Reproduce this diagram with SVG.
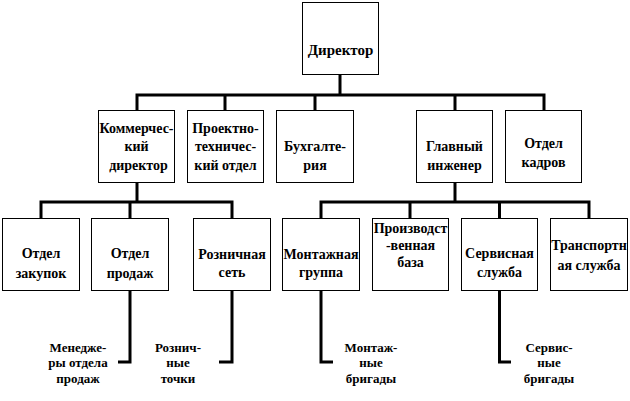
<svg xmlns="http://www.w3.org/2000/svg" width="630" height="401" viewBox="0 0 630 401">
<style>
.box{fill:#fff;stroke:#000;stroke-width:1}
.t{font-weight:bold;font-size:14px;text-anchor:middle;fill:#000}
.d{font-size:15px}
.s{font-size:13px}
.c{fill:none;stroke:#000;stroke-width:3}
</style>
<rect width="630" height="401" fill="#fff"/>
<g id="connectors">
<path class="c" d="M340 74V95"/>
<path class="c" d="M137 110V95H544V110"/>
<path class="c" d="M225 95V110M315 95V110M455 95V110"/>
<path class="c" d="M137 183V202"/>
<path class="c" d="M41 218V202H232V218"/>
<path class="c" d="M130 202V218"/>
<path class="c" d="M455 183V202"/>
<path class="c" d="M321 218V202H589V218"/>
<path class="c" d="M410 202V218M499.5 202V218"/>
<path class="c" d="M130 291V362H118"/>
<path class="c" d="M232 291V362H219"/>
<path class="c" d="M321 291V362H333"/>
<path class="c" d="M499.5 291V362H511"/>
</g>
<g font-family="Liberation Serif, Times New Roman, serif">
<g id="director"><rect class="box" x="302.5" y="2.5" width="76" height="72"/><text class="t d" x="340.5" y="55">Директор</text></g>
<g id="kommerch"><rect class="box" x="98.5" y="110.5" width="76" height="72"/><text class="t" x="136.5" y="133">Коммерчес-</text><text class="t" x="136.5" y="151">кий</text><text class="t" x="138.5" y="170">директор</text></g>
<g id="proekt"><rect class="box" x="187.5" y="110.5" width="76" height="72"/><text class="t" x="225.5" y="133">Проектно-</text><text class="t" x="225.5" y="151">техничес-</text><text class="t" x="225.5" y="170">кий отдел</text></g>
<g id="bukh"><rect class="box" x="276.5" y="110.5" width="77" height="72"/><text class="t" x="315" y="151">Бухгалте-</text><text class="t" x="315" y="170">рия</text></g>
<g id="glavn"><rect class="box" x="416.5" y="110.5" width="76" height="72"/><text class="t" x="454.5" y="151">Главный</text><text class="t" x="454.5" y="170">инженер</text></g>
<g id="kadry"><rect class="box" x="505.5" y="110.5" width="76" height="72"/><text class="t" x="543.5" y="148">Отдел</text><text class="t" x="543.5" y="167">кадров</text></g>
<g id="zakupki"><rect class="box" x="2.5" y="218.5" width="77" height="72"/><text class="t" x="41" y="258">Отдел</text><text class="t" x="41" y="278">закупок</text></g>
<g id="prodazhi"><rect class="box" x="91.5" y="218.5" width="77" height="72"/><text class="t" x="130" y="258">Отдел</text><text class="t" x="130" y="278">продаж</text></g>
<g id="rozn"><rect class="box" x="193.5" y="218.5" width="77" height="72"/><text class="t" x="232" y="259">Розничная</text><text class="t" x="232" y="277">сеть</text></g>
<g id="montazh"><rect class="box" x="282.5" y="218.5" width="77" height="72"/><text class="t" x="321" y="259">Монтажная</text><text class="t" x="321" y="277">группа</text></g>
<g id="proizv"><rect class="box" x="372.5" y="218.5" width="76" height="72"/><text class="t" x="410.5" y="233">Производст</text><text class="t" x="410.5" y="250">-венная</text><text class="t" x="410.5" y="267">база</text></g>
<g id="servis"><rect class="box" x="461.5" y="218.5" width="76" height="72"/><text class="t" x="499.5" y="258">Сервисная</text><text class="t" x="499.5" y="277">служба</text></g>
<g id="transport"><rect class="box" x="550.5" y="218.5" width="77" height="72"/><text class="t" x="589" y="250">Транспортн</text><text class="t" x="589" y="270">ая служба</text></g>
<g id="managers"><text class="t s" x="78" y="352">Менедже-</text><text class="t s" x="78" y="367">ры отдела</text><text class="t s" x="78" y="383">продаж</text></g>
<g id="points"><text class="t s" x="178" y="352">Рознич-</text><text class="t s" x="178" y="367">ные</text><text class="t s" x="178" y="383">точки</text></g>
<g id="mbrig"><text class="t s" x="371" y="352">Монтаж-</text><text class="t s" x="371" y="367">ные</text><text class="t s" x="371" y="383">бригады</text></g>
<g id="sbrig"><text class="t s" x="549" y="352">Сервис-</text><text class="t s" x="549" y="367">ные</text><text class="t s" x="549" y="383">бригады</text></g>
</g>
</svg>
